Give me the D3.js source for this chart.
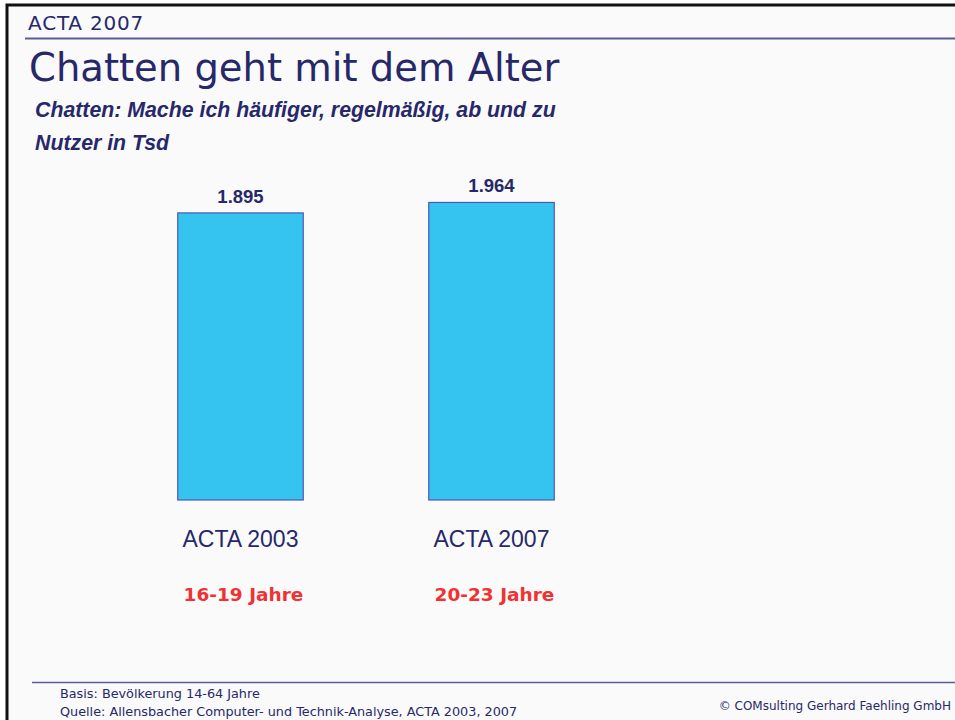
<!DOCTYPE html>
<html>
<head>
<meta charset="utf-8">
<script src="https://cdn.jsdelivr.net/npm/d3@7"></script>
<style>
    html, body { margin: 0; padding: 0; background: #ffffff; }
    svg { display: block; }
</style>
</head>
<body>
<div id="chart"></div>
<script>
'use strict';

/************************************************ data ******************************************************/
var categories = ['ACTA 2003', 'ACTA 2007'];
var ageGroups = ['16-19 Jahre', '20-23 Jahre'];
var users = [1895, 1964]; // Nutzer in Tsd

var headerText = 'ACTA 2007';
var titleText = 'Chatten geht mit dem Alter';
var subtitleLines = ['Chatten: Mache ich häufiger, regelmäßig, ab und zu', 'Nutzer in Tsd'];
var footerLines = ['Basis: Bevölkerung 14-64 Jahre', 'Quelle: Allensbacher Computer- und Technik-Analyse, ACTA 2003, 2007'];
var copyrightText = '© COMsulting Gerhard Faehling GmbH';

/************************************************ paint ******************************************************/
var width = 955,
    height = 720,
    navy = '#27286a',
    slideFont = '"DejaVu Sans", Lato, sans-serif',
    arialFont = '"Liberation Sans", Arial, sans-serif';

var svg = d3.select('#chart').append('svg')
    .attr('width', width)
    .attr('height', height);

//slide background + black frame (top and left only, right side is cut off)
svg.append('rect')
    .attr('x', 0).attr('y', 0)
    .attr('width', width).attr('height', height)
    .attr('fill', '#ffffff');
svg.append('rect')
    .attr('x', 7).attr('y', 5)
    .attr('width', width).attr('height', height)
    .attr('fill', '#fafafa')
    .attr('stroke', '#111111')
    .attr('stroke-width', 3);

//header
svg.append('text')
    .attr('x', 28).attr('y', 30)
    .attr('font-family', slideFont)
    .attr('font-size', 20)
    .attr('letter-spacing', 0.8)
    .attr('fill', navy)
    .text(headerText);

svg.append('line')
    .attr('x1', 25).attr('x2', width)
    .attr('y1', 38.5).attr('y2', 38.5)
    .attr('stroke', '#5c5c94')
    .attr('stroke-width', 2);

svg.append('text')
    .attr('x', 29).attr('y', 81)
    .attr('font-family', slideFont)
    .attr('font-size', 38.5)
    .attr('fill', navy)
    .text(titleText);

svg.selectAll('.subtitle')
    .data(subtitleLines)
    .enter().append('text')
    .attr('class', 'subtitle')
    .attr('x', 35)
    .attr('y', function (d, i) { return 117 + i * 33; })
    .attr('font-family', arialFont)
    .attr('font-size', 21.3)
    .attr('font-weight', 'bold')
    .attr('font-style', 'italic')
    .attr('fill', navy)
    .text(function (d) { return d; });

//scales
var x = d3.scaleBand()
    .domain(categories)
    .range([115, 617])
    .paddingInner(0.5)
    .paddingOuter(0.25);

var y = d3.scaleLinear()
    .domain([0, 2000])
    .range([500, 197]);

var formatValue = function (v) {
    return d3.format(',')(v).replace(/,/g, '.');
};

var bars = svg.append('g').attr('class', 'bars');

bars.selectAll('rect')
    .data(users)
    .enter().append('rect')
    .attr('x', function (d, i) { return x(categories[i]); })
    .attr('y', function (d) { return y(d); })
    .attr('width', x.bandwidth())
    .attr('height', function (d) { return y(0) - y(d); })
    .attr('fill', '#35c3f0')
    .attr('stroke', '#4a5ab4')
    .attr('stroke-width', 1.2);

//value labels above bars
bars.selectAll('.value')
    .data(users)
    .enter().append('text')
    .attr('class', 'value')
    .attr('x', function (d, i) { return x(categories[i]) + x.bandwidth() / 2; })
    .attr('y', function (d) { return y(d) - 10; })
    .attr('text-anchor', 'middle')
    .attr('font-family', arialFont)
    .attr('font-size', 18.5)
    .attr('font-weight', 'bold')
    .attr('fill', navy)
    .text(formatValue);

//category labels
bars.selectAll('.category')
    .data(categories)
    .enter().append('text')
    .attr('class', 'category')
    .attr('x', function (d) { return x(d) + x.bandwidth() / 2; })
    .attr('y', 547)
    .attr('text-anchor', 'middle')
    .attr('font-family', arialFont)
    .attr('font-size', 23)
    .attr('fill', navy)
    .text(function (d) { return d; });

//age groups in red
bars.selectAll('.age')
    .data(ageGroups)
    .enter().append('text')
    .attr('class', 'age')
    .attr('x', function (d, i) { return x(categories[i]) + x.bandwidth() / 2 + 3; })
    .attr('y', 601)
    .attr('text-anchor', 'middle')
    .attr('font-family', slideFont)
    .attr('font-size', 18.5)
    .attr('font-weight', 'bold')
    .attr('fill', '#f03232')
    .text(function (d) { return d; });

//footer
svg.append('line')
    .attr('x1', 32).attr('x2', width)
    .attr('y1', 682.5).attr('y2', 682.5)
    .attr('stroke', '#5c5c94')
    .attr('stroke-width', 1.5);

svg.selectAll('.footer')
    .data(footerLines)
    .enter().append('text')
    .attr('class', 'footer')
    .attr('x', 60)
    .attr('y', function (d, i) { return 698 + i * 18; })
    .attr('font-family', slideFont)
    .attr('font-size', 12.8)
    .attr('fill', navy)
    .text(function (d) { return d; });

svg.append('text')
    .attr('x', 951).attr('y', 710)
    .attr('text-anchor', 'end')
    .attr('font-family', slideFont)
    .attr('font-size', 12)
    .attr('fill', navy)
    .text(copyrightText);
</script>
</body>
</html>
